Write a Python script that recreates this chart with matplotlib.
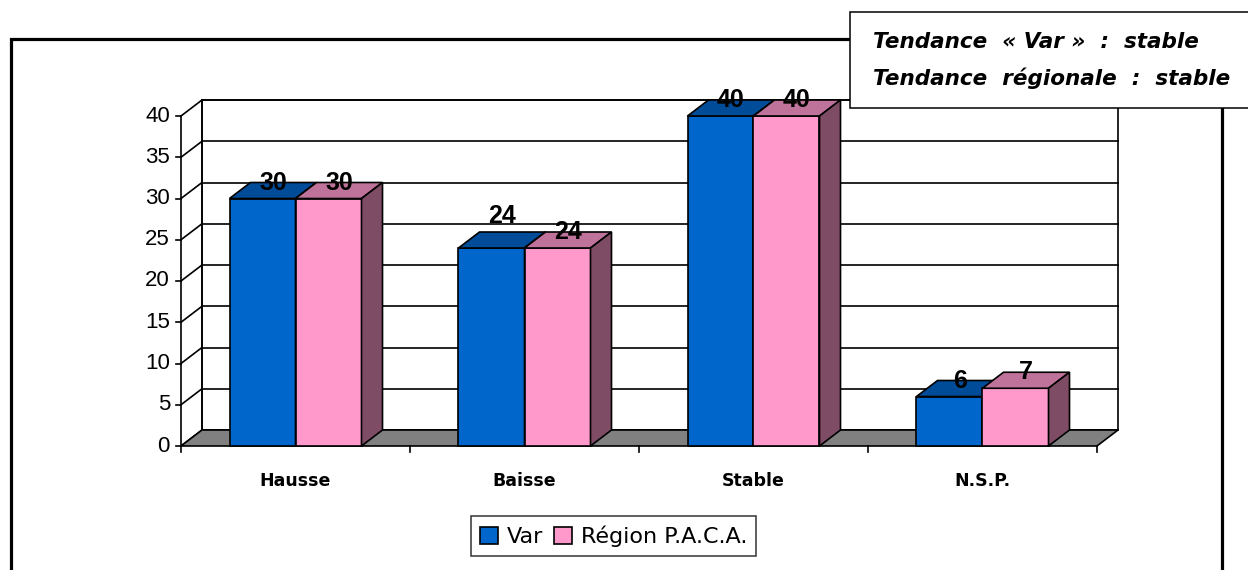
import numpy as np
import matplotlib
matplotlib.use('Agg')
from matplotlib import pyplot as plt
from matplotlib import font_manager
from matplotlib.patches import Polygon, Rectangle, Patch

categories = ['Hausse', 'Baisse', 'Stable', 'N.S.P.']
var_values = [30, 24, 40, 6]
paca_values = [30, 24, 40, 7]
series_names = ['Var', 'Région P.A.C.A.']
y_ticks = [0, 5, 10, 15, 20, 25, 30, 35, 40]
note_lines = ['Tendance  « Var »  :  stable', 'Tendance  régionale  :  stable']

# Arial-like bold for the value labels (pick the plain, not narrow, file)
paths = [f.fname for f in font_manager.fontManager.ttflist
         if f.fname.endswith('LiberationSans-Bold.ttf')]
if paths:
    label_font = font_manager.FontProperties(fname=paths[0], size=18)
else:
    label_font = font_manager.FontProperties(family='DejaVu Sans', weight='bold', size=15.5)

W, H = 1248, 570
fig = plt.figure(figsize=(W / 100, H / 100), dpi=100)
fig.patch.set_facecolor('white')

# axes: 1 category = 229 px, 1 unit = 8.25 px, origin at px (181, 446)
ax = fig.add_axes([150 / W, (H - 460) / H, 980 / W, 370 / H])
ax.set_xlim((150 - 181) / 229, (1130 - 181) / 229)
ax.set_ylim((446 - 460) / 8.25, (446 - 90) / 8.25)
ax.axis('off')

DX = 21 / 229
DY = 16 / 8.25
bw = 66 / 229
n = len(categories)
lw = 1.2

# back wall and left wall
ax.add_patch(Polygon([(DX, DY), (n + DX, DY), (n + DX, 40 + DY), (DX, 40 + DY)],
                     closed=True, facecolor='white', edgecolor='black', lw=lw, zorder=1))
for v in y_ticks:
    ax.plot([DX, n + DX], [v + DY, v + DY], color='black', lw=lw, zorder=1)
    ax.plot([0, DX], [v, v + DY], color='black', lw=lw, zorder=1)
    ax.plot([-5 / 229, 0], [v, v], color='black', lw=lw, zorder=1)
    ax.text(-11 / 229, v, str(v), ha='right', va='center', fontsize=16,
            family='Liberation Sans')
ax.plot([0, 0], [0, 40], color='black', lw=lw, zorder=1)
ax.plot([DX, DX], [DY, 40 + DY], color='black', lw=lw, zorder=1)

# floor
ax.add_patch(Polygon([(0, 0), (n, 0), (n + DX, DY), (DX, DY)], closed=True,
                     facecolor='#808080', edgecolor='black', lw=lw, zorder=2))
for i in range(n + 1):
    ax.plot([i, i], [0, -6 / 8.25], color='black', lw=lw, zorder=2)

for i, c in enumerate(categories):
    ax.text(i + 0.5, (446 - 481) / 8.25, c, ha='center', va='center',
            fontsize=12.5, fontweight='bold', family='DejaVu Sans')


def bar3d(x0, v, front, top, side, z):
    x1 = x0 + bw
    ax.add_patch(Polygon([(x0, 0), (x1, 0), (x1, v), (x0, v)], closed=True,
                         facecolor=front, edgecolor='black', lw=lw, zorder=z))
    ax.add_patch(Polygon([(x0, v), (x1, v), (x1 + DX, v + DY), (x0 + DX, v + DY)],
                         closed=True, facecolor=top, edgecolor='black', lw=lw, zorder=z))
    ax.add_patch(Polygon([(x1, 0), (x1 + DX, DY), (x1 + DX, v + DY), (x1, v)],
                         closed=True, facecolor=side, edgecolor='black', lw=lw, zorder=z))


var_lift = [0, 1, 0, 0]  # Excel pushed the Var "24" label up one depth step
for i in range(n):
    c = i + 0.5
    bar3d(c - bw, var_values[i], '#0066CC', '#004C99', '#003366', 3)
    bar3d(c, paca_values[i], '#FF99CC', '#C0739A', '#7F4C66', 4)
    ax.text(c - bw / 2 + DX / 2, var_values[i] + DY * (1 + var_lift[i]), str(var_values[i]),
            ha='center', va='center', fontproperties=label_font, zorder=6)
    ax.text(c + bw / 2 + DX / 2, paca_values[i] + DY, str(paca_values[i]),
            ha='center', va='center', fontproperties=label_font, zorder=6)

# outer chart frame
fig.add_artist(Rectangle((11 / W, -0.1), (1222 - 11) / W, 1.1 - 39 / H,
                         transform=fig.transFigure, fill=False, edgecolor='black', lw=2.3))

# note box
fig.add_artist(Rectangle((850 / W, 1 - 108 / H), 420 / W, 96 / H,
                         transform=fig.transFigure, facecolor='white', edgecolor='black',
                         lw=1.1, zorder=10))
for k, line in enumerate(note_lines):
    fig.text(873 / W, 1 - (42 + 36 * k) / H, line, ha='left', va='center', fontsize=15.5,
             fontweight='bold', style='italic', family='DejaVu Sans', zorder=11)

# legend
handles = [Patch(facecolor='#0066CC', edgecolor='black', lw=1.2),
           Patch(facecolor='#FF99CC', edgecolor='black', lw=1.2)]
leg = fig.legend(handles, series_names, loc='center', ncol=2,
                 bbox_to_anchor=(613.5 / W, 1 - 536 / H), frameon=True, fancybox=False,
                 edgecolor='black', handlelength=0.8, handleheight=0.8,
                 handletextpad=0.4, columnspacing=0.5, borderpad=0.4,
                 prop={'family': 'DejaVu Sans', 'size': 16})
leg.get_frame().set_linewidth(1.1)

plt.savefig('out.png', dpi=100)
